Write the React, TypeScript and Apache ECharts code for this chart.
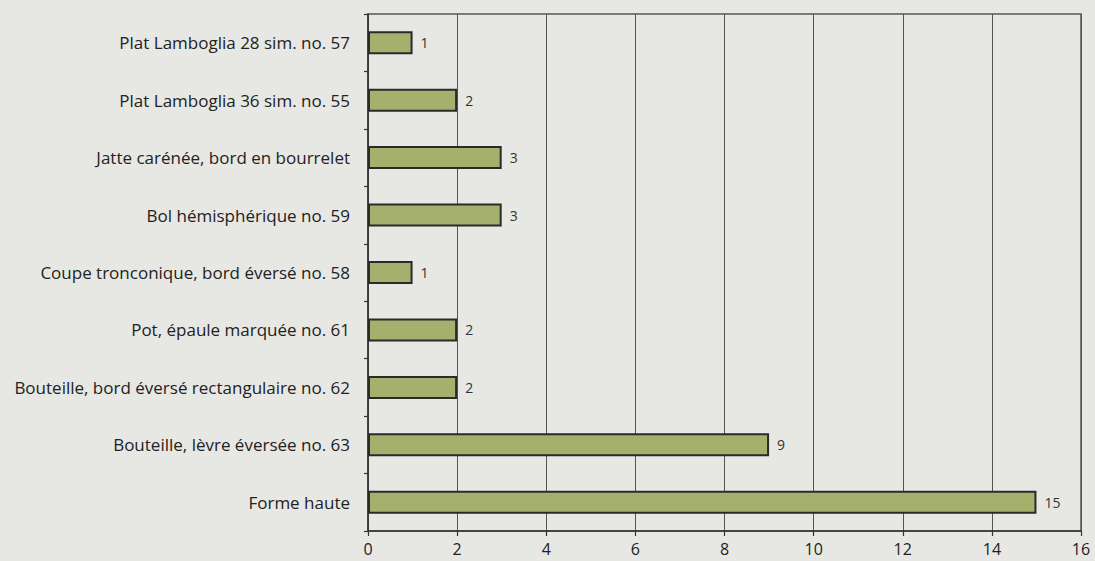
import React, { useEffect, useRef } from "react";
import * as echarts from "echarts";

const categories = [
  "Plat Lamboglia 28 sim. no. 57",
  "Plat Lamboglia 36 sim. no. 55",
  "Jatte carénée, bord en bourrelet",
  "Bol hémisphérique no. 59",
  "Coupe tronconique, bord éversé no. 58",
  "Pot, épaule marquée no. 61",
  "Bouteille, bord éversé rectangulaire no. 62",
  "Bouteille, lèvre éversée no. 63",
  "Forme haute",
];
const counts = [1, 2, 3, 3, 1, 2, 2, 9, 15];
const xMin = 0;
const xMax = 16;
const xStep = 2;

export default function App() {
  const ref = useRef<HTMLDivElement>(null);
  useEffect(() => {
    document.body.style.margin = "0";
    const chart = echarts.init(ref.current!, null, { renderer: "svg" });
    const font = "'Open Sans', 'Noto Sans', sans-serif";
    chart.setOption({
      animation: false,
      backgroundColor: "#e7e8e4",
      textStyle: { fontFamily: font },
      grid: {
        left: 368,
        right: 14,
        top: 14,
        bottom: 30,
        show: true,
        borderColor: "#555",
        borderWidth: 1.5,
        backgroundColor: "transparent",
      },
      xAxis: {
        type: "value",
        min: xMin,
        max: xMax,
        interval: xStep,
        axisLine: { show: true, lineStyle: { color: "#333", width: 1.5 } },
        axisTick: { show: true, length: 5, lineStyle: { color: "#333", width: 1.2 } },
        axisLabel: { color: "#222", fontSize: 16, margin: 10, fontFamily: font },
        splitLine: { show: true, lineStyle: { color: "#555", width: 1 } },
      },
      yAxis: {
        type: "category",
        data: categories,
        inverse: true,
        axisLine: { show: true, lineStyle: { color: "#333", width: 1.5 } },
        axisTick: { show: true, length: 4, lineStyle: { color: "#333", width: 1.2 } },
        axisLabel: { color: "#222", fontSize: 17, margin: 18, fontFamily: font },
        splitLine: { show: false },
      },
      series: [
        {
          type: "bar",
          data: counts,
          barWidth: 23,
          itemStyle: { color: "#a4b06b", borderColor: "#2a2a2a", borderWidth: 2 },
          label: {
            show: true,
            position: "right",
            distance: 8,
            color: "#333",
            fontSize: 14,
            fontFamily: font,
          },
        },
      ],
    });
    return () => chart.dispose();
  }, []);
  return <div ref={ref} style={{ width: 1095, height: 561 }} />;
}
